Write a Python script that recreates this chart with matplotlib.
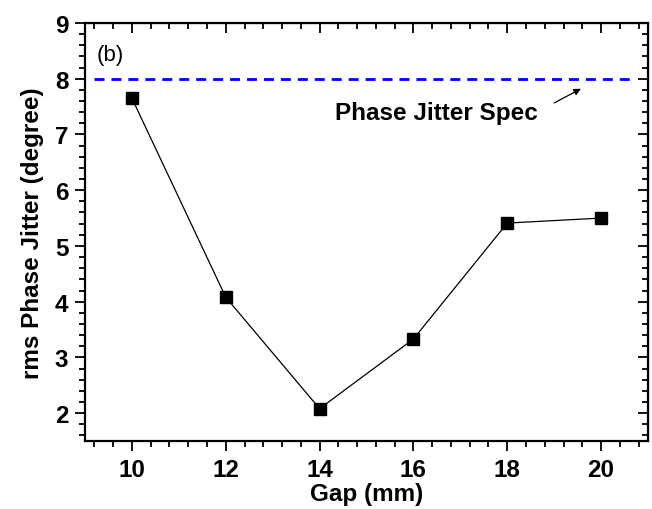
import matplotlib
matplotlib.use("Agg")
import matplotlib.pyplot as plt
from matplotlib.ticker import MultipleLocator

gap_mm = [10, 12, 14, 16, 18, 20]
jitter_deg = [7.65, 4.08, 2.08, 3.33, 5.41, 5.50]
spec_deg = 8.0
spec_x = [9.2, 20.7]

plt.rcParams['font.family'] = ['Liberation Sans', 'DejaVu Sans']

fig = plt.figure(figsize=(6.52, 5.10), dpi=100)
ax = fig.add_axes([85/652, 1 - 442/510, (648-85)/652, (442-24)/510])

ax.plot(gap_mm, jitter_deg, color='black', lw=0.9, marker='s', ms=8.5,
        mfc='black', mec='black')
ax.plot(spec_x, [spec_deg, spec_deg], color='#0000ff', lw=2.0,
        dashes=(3.6, 2.5))

ax.set_xlim(9, 21)
ax.set_ylim(1.5, 9)
ax.xaxis.set_major_locator(MultipleLocator(2))
ax.xaxis.set_minor_locator(MultipleLocator(0.4))
ax.yaxis.set_major_locator(MultipleLocator(1))
ax.yaxis.set_minor_locator(MultipleLocator(0.2))

for s in ax.spines.values():
    s.set_linewidth(1.6)

ax.tick_params(which='both', direction='out', top=False, right=False, width=1.3)
ax.tick_params(which='major', length=7, labelsize=17.5, pad=5)
ax.tick_params(which='minor', length=4)
for lab in ax.get_xticklabels() + ax.get_yticklabels():
    lab.set_fontweight('bold')

# inward ticks on top/right
axt = ax.secondary_xaxis('top')
axt.xaxis.set_major_locator(MultipleLocator(2))
axt.xaxis.set_minor_locator(MultipleLocator(0.4))
axt.tick_params(which='both', direction='in', labeltop=False, width=1.3)
axt.tick_params(which='major', length=7)
axt.tick_params(which='minor', length=4)
axr = ax.secondary_yaxis('right')
axr.yaxis.set_major_locator(MultipleLocator(1))
axr.yaxis.set_minor_locator(MultipleLocator(0.2))
axr.tick_params(which='both', direction='in', labelright=False, width=1.3)
axr.tick_params(which='major', length=7)
axr.tick_params(which='minor', length=4)

ax.set_xlabel('Gap (mm)', fontsize=17.5, fontweight='bold', labelpad=1)
ax.set_ylabel('rms Phase Jitter (degree)', fontsize=17.5, fontweight='bold', labelpad=8)

ax.text(9.25, 8.44, '(b)', fontsize=16, va='center')
ax.text(16.48, 7.40, 'Phase Jitter Spec', fontsize=17.5, fontweight='bold',
        ha='center', va='center')
ax.annotate('', xy=(19.57, 7.82), xytext=(19.0, 7.565),
            arrowprops=dict(arrowstyle='-|>', color='black', lw=0.9,
                            mutation_scale=10, shrinkA=0, shrinkB=0))

fig.savefig('out.png', dpi=100)
